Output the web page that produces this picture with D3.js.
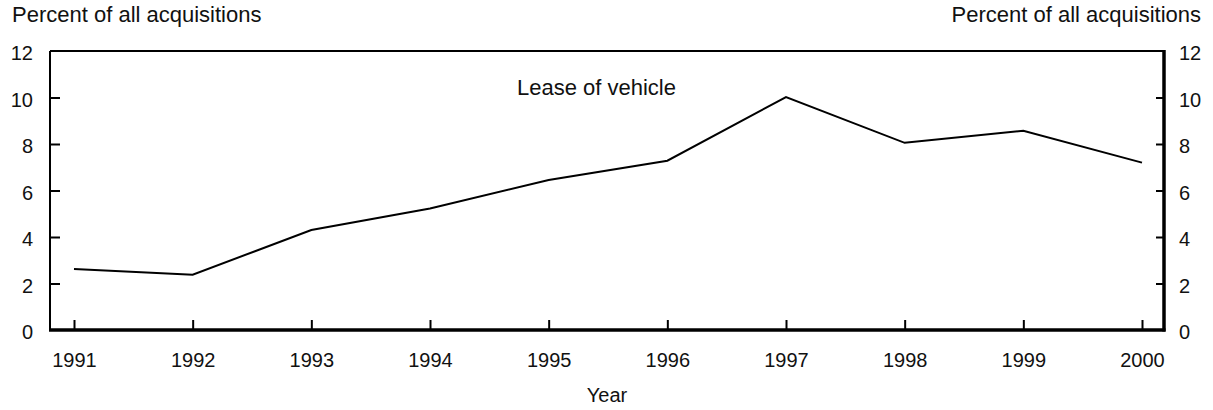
<!DOCTYPE html>
<html>
<head>
<meta charset="utf-8">
<script src="https://cdn.jsdelivr.net/npm/d3@7"></script>
<style>
  body { margin: 0; background: #fff; }
  text { font-family: "Liberation Sans", Arial, sans-serif; fill: #111; }
</style>
</head>
<body>
<svg id="chart" width="1213" height="410"></svg>
<script>
// data
var years = [1991, 1992, 1993, 1994, 1995, 1996, 1997, 1998, 1999, 2000];
var leasePct = [2.62, 2.38, 4.3, 5.23, 6.45, 7.28, 10.02, 8.05, 8.57, 7.2];
var yTicks = [0, 2, 4, 6, 8, 10, 12];
var seriesLabel = "Lease of vehicle";
var axisTitle = "Percent of all acquisitions";
var xTitle = "Year";

var svg = d3.select("#chart"),
    plotL = 50, plotR = 1164, plotT = 51, plotB = 330;

var x = d3.scaleLinear().domain([1991, 2000]).range([74, 1142]),
    y = d3.scaleLinear().domain([0, 12]).range([plotB, plotT]);

// frame: thin left/top, heavy bottom/right
svg.append("line").attr("x1", plotL).attr("x2", plotL).attr("y1", plotT).attr("y2", plotB)
    .attr("stroke", "#000").attr("stroke-width", 2);
svg.append("line").attr("x1", plotL).attr("x2", plotR).attr("y1", plotT).attr("y2", plotT)
    .attr("stroke", "#000").attr("stroke-width", 2);
svg.append("line").attr("x1", plotL - 1).attr("x2", plotR + 1.5).attr("y1", plotB).attr("y2", plotB)
    .attr("stroke", "#000").attr("stroke-width", 3.5);
svg.append("line").attr("x1", plotR).attr("x2", plotR).attr("y1", plotT - 1).attr("y2", plotB + 1.5)
    .attr("stroke", "#000").attr("stroke-width", 3.5);

// left axis
var yl = svg.append("g").attr("transform", "translate(" + plotL + ",0)")
    .call(d3.axisRight(y).tickValues(yTicks).tickSize(10).tickFormat(""));
yl.select(".domain").remove();
yl.selectAll(".tick line").attr("stroke", "#000").attr("stroke-width", 2);
yl.selectAll(".tick").filter(function(d) { return d === 0 || d === 12; }).select("line").remove();
yl.selectAll(".tick").append("text")
    .attr("x", -17).attr("dy", "0.43em").attr("text-anchor", "end")
    .style("font-size", "20px").text(function(d) { return d; });

// right axis
var yr = svg.append("g").attr("transform", "translate(" + plotR + ",0)")
    .call(d3.axisLeft(y).tickValues(yTicks).tickSize(8).tickFormat(""));
yr.select(".domain").remove();
yr.selectAll(".tick line").attr("stroke", "#000").attr("stroke-width", 2);
yr.selectAll(".tick").filter(function(d) { return d === 0 || d === 12; }).select("line").remove();
yr.selectAll(".tick").append("text")
    .attr("x", 15).attr("dy", "0.43em").attr("text-anchor", "start")
    .style("font-size", "20px").text(function(d) { return d; });

// bottom axis
var xa = svg.append("g").attr("transform", "translate(0," + plotB + ")")
    .call(d3.axisTop(x).tickValues(years).tickSize(10).tickFormat(""));
xa.select(".domain").remove();
xa.selectAll(".tick line").attr("stroke", "#000").attr("stroke-width", 2);
xa.selectAll(".tick").append("text")
    .attr("y", 37).attr("text-anchor", "middle")
    .style("font-size", "20px").text(function(d) { return d; });

// the series
var line = d3.line()
    .x(function(d, i) { return x(years[i]); })
    .y(function(d) { return y(d); });

svg.append("path")
    .datum(leasePct)
    .attr("fill", "none")
    .attr("stroke", "#000")
    .attr("stroke-width", 2)
    .attr("d", line);

// labels
svg.append("text").attr("x", 517).attr("y", 95)
    .style("font-size", "22px").text(seriesLabel);
svg.append("text").attr("x", 12).attr("y", 22)
    .style("font-size", "22px").text(axisTitle);
svg.append("text").attr("x", 1201).attr("y", 22).attr("text-anchor", "end")
    .style("font-size", "22px").text(axisTitle);
svg.append("text").attr("x", 607).attr("y", 402).attr("text-anchor", "middle")
    .style("font-size", "20px").text(xTitle);
</script>
</body>
</html>
